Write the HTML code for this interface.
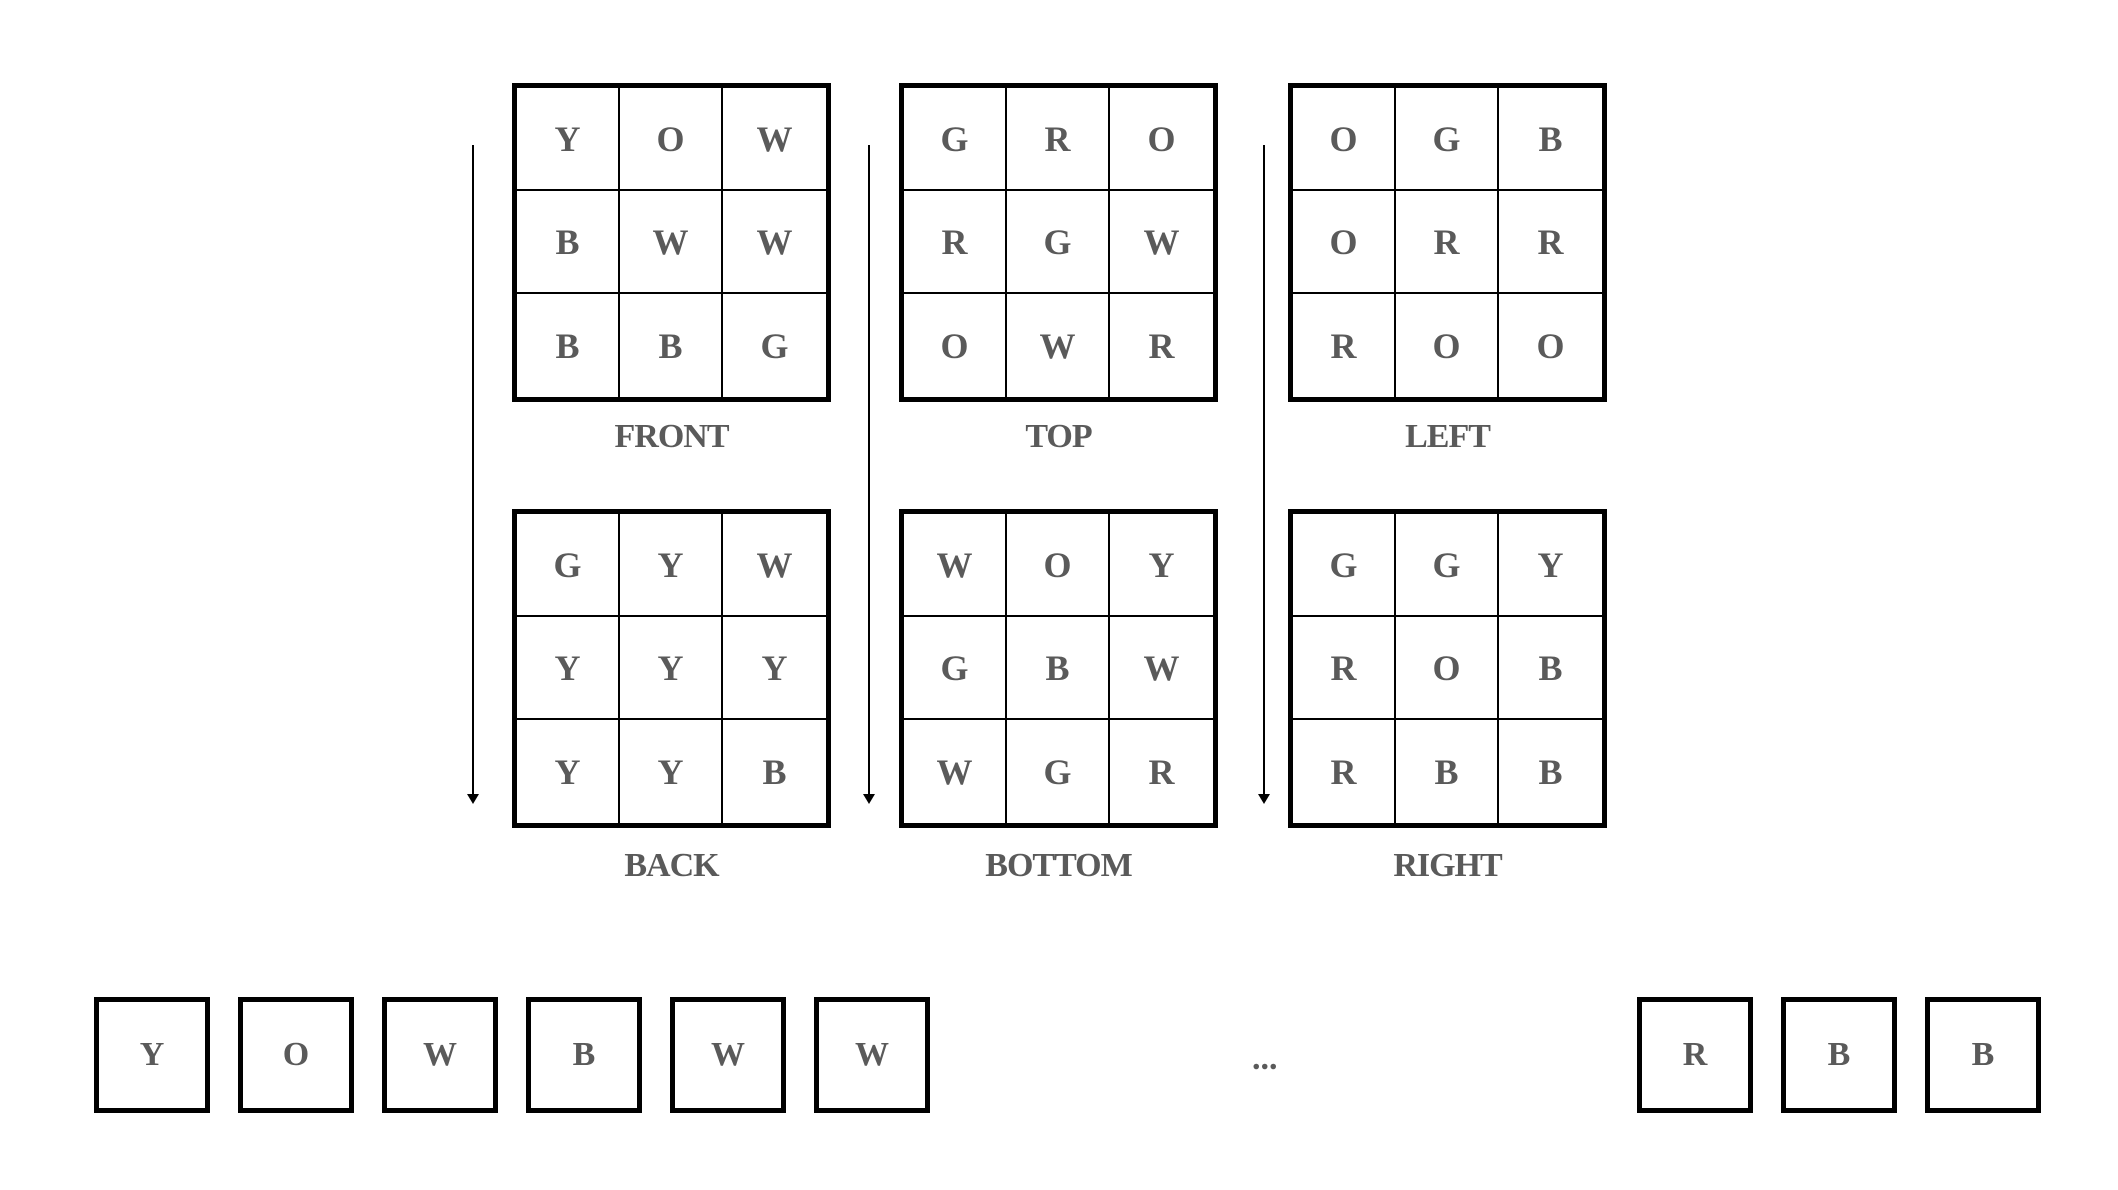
<!DOCTYPE html>
<html><head><meta charset="utf-8"><style>
html,body{margin:0;padding:0;background:#fff;width:2118px;height:1190px;overflow:hidden;position:relative;font-family:"Liberation Serif",serif;}
.g{position:absolute;width:309px;height:309px;border:5px solid #000;display:grid;grid-template-columns:repeat(3,1fr);grid-template-rows:repeat(3,1fr);}
.g div{border-right:2px solid #000;border-bottom:2px solid #000;display:flex;align-items:center;justify-content:center;color:#5a5a5a;font-weight:bold;font-size:36px;}
.g div:nth-child(3n){border-right:none}
.g div:nth-child(n+7){border-bottom:none}
.lab{position:absolute;width:319px;text-align:center;color:#5a5a5a;font-weight:bold;font-size:34px;line-height:40px;letter-spacing:-1px;}
.b{position:absolute;top:997px;width:106px;height:106px;border:5px solid #000;display:flex;align-items:center;justify-content:center;color:#5a5a5a;font-weight:bold;font-size:34px;}
.ar{position:absolute;width:2px;background:#000;top:145px;height:650px;}
.ah{position:absolute;top:794px;width:0;height:0;border-left:6px solid transparent;border-right:6px solid transparent;border-top:10px solid #000;}
</style></head><body>
<div class="g" style="left:512px;top:83px"><div>Y</div><div>O</div><div>W</div><div>B</div><div>W</div><div>W</div><div>B</div><div>B</div><div>G</div></div>
<div class="g" style="left:899px;top:83px"><div>G</div><div>R</div><div>O</div><div>R</div><div>G</div><div>W</div><div>O</div><div>W</div><div>R</div></div>
<div class="g" style="left:1288px;top:83px"><div>O</div><div>G</div><div>B</div><div>O</div><div>R</div><div>R</div><div>R</div><div>O</div><div>O</div></div>
<div class="g" style="left:512px;top:509px"><div>G</div><div>Y</div><div>W</div><div>Y</div><div>Y</div><div>Y</div><div>Y</div><div>Y</div><div>B</div></div>
<div class="g" style="left:899px;top:509px"><div>W</div><div>O</div><div>Y</div><div>G</div><div>B</div><div>W</div><div>W</div><div>G</div><div>R</div></div>
<div class="g" style="left:1288px;top:509px"><div>G</div><div>G</div><div>Y</div><div>R</div><div>O</div><div>B</div><div>R</div><div>B</div><div>B</div></div>
<div class="lab" style="left:512px;top:417px">FRONT</div>
<div class="lab" style="left:899px;top:417px">TOP</div>
<div class="lab" style="left:1288px;top:417px">LEFT</div>
<div class="lab" style="left:512px;top:846px">BACK</div>
<div class="lab" style="left:899px;top:846px">BOTTOM</div>
<div class="lab" style="left:1288px;top:846px">RIGHT</div>
<div class="ar" style="left:472px"></div><div class="ah" style="left:467px"></div>
<div class="ar" style="left:868px"></div><div class="ah" style="left:863px"></div>
<div class="ar" style="left:1263px"></div><div class="ah" style="left:1258px"></div>
<div class="b" style="left:94px">Y</div>
<div class="b" style="left:238px">O</div>
<div class="b" style="left:382px">W</div>
<div class="b" style="left:526px">B</div>
<div class="b" style="left:670px">W</div>
<div class="b" style="left:814px">W</div>
<div style="position:absolute;left:1252px;top:1040px;color:#5a5a5a;font-weight:bold;font-size:34px;">...</div>
<div class="b" style="left:1637px">R</div>
<div class="b" style="left:1781px">B</div>
<div class="b" style="left:1925px">B</div>
</body></html>
